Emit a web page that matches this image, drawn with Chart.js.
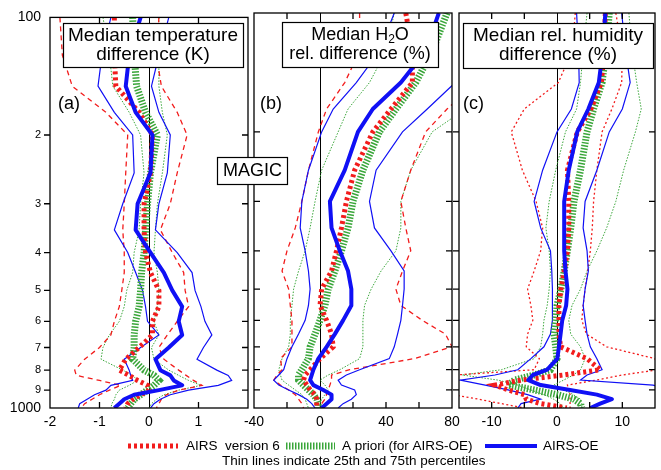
<!DOCTYPE html>
<html>
<head>
<meta charset="utf-8">
<script src="https://cdn.jsdelivr.net/npm/chart.js@4.4.1/dist/chart.umd.min.js"></script>
<style>
  body { margin: 0; background: #fff; }
  #wrap { position: relative; width: 661px; height: 470px; }
  #wrap canvas { position: absolute; left: 0; top: 0; }
</style>
</head>
<body>
<div id="wrap">
  <canvas id="chartA" width="661" height="470"></canvas>
  <canvas id="chartB" width="661" height="470"></canvas>
  <canvas id="chartC" width="661" height="470"></canvas>
</div>
<script>
// pressure levels (hPa), shared by every profile
const levels = [100,125,150,175,200,250,300,350,400,450,500,550,600,650,700,750,800,825,850,875,900,925,950,975,1000];
const yTicks = [100,200,300,400,500,600,700,800,900,1000];

// (a) temperature difference, K
const tV6   = [-0.7,-0.7,-0.67,-0.2,0.07,0.03,-0.1,-0.1,-0.07,0.03,0.2,0.2,0.07,0.07,-0.2,-0.47,-0.6,-0.4,-0.23,-0.03,0,-0.17,-0.33,-0.43,-0.47];
const tV6Lo = [-1.8,-1.75,-1.55,-0.87,-0.43,-0.47,-0.5,-0.53,-0.5,-0.5,-0.55,-0.6,-0.7,-0.77,-1.0,-1.3,-1.5,-1.47,-1.0,-0.57,-0.8,-1.0,-1.15,-1.3,-1.37];
const tV6Hi = [0.2,0.15,0.25,0.57,0.77,0.57,0.43,0.23,0.47,0.7,0.73,0.8,0.57,0.37,0.2,0.3,0.6,0.75,0.9,1.07,0.6,0.35,0.25,0.2,0.15];
const tAp   = [-0.33,-0.3,-0.25,-0.07,0.17,0.03,-0.03,-0.07,-0.1,-0.15,-0.17,-0.2,-0.27,-0.3,-0.3,-0.33,-0.1,0.1,0.2,0.1,-0.03,-0.17,-0.3,-0.37,-0.43];
const tApLo = [-0.93,-0.8,-0.73,-0.4,-0.17,-0.1,-0.17,-0.2,-0.3,-0.33,-0.45,-0.5,-0.6,-0.8,-0.93,-0.97,-0.53,-0.33,-0.23,-0.4,-0.6,-0.67,-0.7,-0.75,-0.77];
const tApHi = [0.2,0.2,0.2,0.27,0.37,0.27,0.17,0.13,0.1,0.17,0.2,0.17,0.1,0.2,0.05,0.1,0.4,0.6,0.8,1.05,0.6,0.3,0.15,0.05,0];
const tOe   = [-0.17,-0.4,-0.47,-0.27,0.07,0.03,-0.23,-0.27,0.03,0.3,0.47,0.67,0.6,0.67,0.4,0.13,0.23,0.43,0.5,0.67,0.2,-0.3,-0.5,-0.6,-0.7];
const tOeLo = [-0.77,-0.95,-1.03,-0.7,-0.33,-0.3,-0.53,-0.7,-0.43,-0.27,-0.13,-0.07,-0.03,0.2,-0.17,-0.5,-0.4,-0.37,-0.33,-0.77,-0.87,-1.1,-1.25,-1.4,-1.43];
const tOeHi = [0.4,0.2,0.05,0.2,0.43,0.37,0.2,0.13,0.57,0.87,0.93,1.05,1.13,1.27,1.1,0.97,1.37,1.6,1.67,1.4,0.8,0.43,0.23,0.1,0.03];

// (b) H2O relative difference, %
const wV6   = [52,56,56,43,32,21,16,13,10,7,1,0,4,7,8,0,-6,-9,-10,-8,-6,-3,-2,-2,-2];
const wV6Lo = [24,24,15,4,-1,-7,-11,-15,-20,-23,-19,-18,-17,-17,-17,-24,-23,-26,-28,-24,-19,-15,-13,-11,-10];
const wV6Hi = [95,95,95,77,64,55,49,52,55,50,46,49,62,76,80,57,18,7,7,6,5,4,3,1,0];
const wAp   = [77,68,58,46,36,26,20,17,13,9,5,3,0,-3,-6,-7,-11,-13,-13,-10,-7,-4,-2,-1,-1];
const wApLo = [45,40,30,17,11,1,-3,-6,-9,-13,-16,-17,-18,-18,-19,-23,-25,-24,-23,-19,-15,-11,-9,-8,-7];
const wApHi = [100,100,95,88,68,55,49,49,46,37,31,27,26,26,26,24,12,5,0,3,5,3,1,0,0];
const wOe   = [72,64,49,32,23,15,6,7,12,17,19,19,14,9,4,-1,-4,-5,-6,-4,2,7,7,4,1];
const wOeLo = [45,36,22,8,1,-7,-11,-12,-9,-7,-6,-7,-9,-13,-17,-20,-22,-25,-28,-25,-19,-13,-8,-5,-3];
const wOeHi = [90,86,82,65,50,34,30,33,43,51,51,50,49,47,45,42,24,16,11,13,21,22,19,14,11];

// (c) relative humidity difference, %
const hV6   = [7.4,7.2,6.8,5.2,3.1,1.6,1.8,1.8,1.6,1.1,0.6,0.3,0.3,0.3,0.55,4.6,6.6,1,-5.5,-9.5,-7.5,-5,-4.7,-2.5,1.5];
const hV6Lo = [2.8,2.3,0.2,-5,-7,-5.3,-3.2,-2.2,-2.5,-3.5,-4.5,-4,-3.7,-4.5,-4.7,-2.7,-3.5,-15.5,-17,-17,-17,-16,-12,-8.5,-5];
const hV6Hi = [9,10,9.9,8.4,6.9,6.1,5.6,5.4,5.1,4.7,4.3,4,3.8,4.5,7.6,15,15.5,10,6,1.6,1.8,2,2,2,2];
const hAp   = [8,7.5,6.9,5.6,4.6,3.6,2.6,2.1,1.6,1.1,0.6,0,-0.2,-0.45,-0.2,0,-1,-3.5,-6.5,-7.5,-3.5,0,2.6,3.6,3.8];
const hApLo = [4.6,4,3.6,3,1.3,-0.2,-1.2,-1.7,-1.2,-1,-1.2,-1.5,-2,-2.2,-2.5,-3.5,-8.5,-14.5,-9,-6,-4,-2,-0.5,0.5,1];
const hApHi = [11,11.5,12.2,12.9,12,10.2,9,7.6,6.1,4.6,3.6,2.3,1.8,2.1,3.6,4.3,3.6,2.5,1,-0.5,1,2.5,3.6,3.8,3.8];
const hOe   = [7.4,7,6.4,4.8,3.1,1.8,1.1,1.1,1.1,1.3,1.6,1.4,0.8,0.55,0.3,0.05,-1.5,-3.7,-4.4,-2.5,2,6.1,8.4,6.6,5.1];
const hOeLo = [3,3.3,3.4,2.2,0,-2.2,-3.5,-2.5,-1,-0.8,-0.7,-0.7,-0.7,-1,-2,-4,-6,-9.5,-14.8,-11,-7.5,-4.5,-2.5,-5.5,-6];
const hOeHi = [9.9,10.5,11.2,10,8,6.1,4.3,4,4.6,4.8,4.3,4,4.3,4.6,5.1,6.1,6.9,4.6,3.6,14.7,18,18,18,18,18];

const FONT = '"Liberation Sans", Arial, Helvetica, sans-serif';
const RED = '#f21c1c', GREEN = '#3aa63a', BLUE = '#1010f5';

const medOe = { borderColor: BLUE, borderWidth: 4, borderJoinStyle: 'round' };
const medV6 = { borderColor: RED, borderWidth: 5, borderDash: [3, 3] };
const medAp = { borderColor: GREEN, borderWidth: 7, borderDash: [1.5, 1.5] };

const panels = [
  { id: 'chartA', left: 0, right: 248, min: -2, max: 2, step: 1, labels: [-2, -1, 0, 1],
    v6: [tV6, tV6Lo, tV6Hi], ap: [tAp, tApLo, tApHi], oe: [tOe, tOeLo, tOeHi], v6Dash: [5, 4],
    title: ['Median temperature', 'difference (K)'], titleSize: 19, box: [63, 23, 243, 67], tag: '(a)', tagX: 58,
    yLabels: true, outLeft: true, legend: true },
  { id: 'chartB', left: 254, right: 452, min: -40, max: 80, step: 20, labels: [-40, 0, 40, 80],
    v6: [wV6, wV6Lo, wV6Hi], ap: [wAp, wApLo, wApHi], oe: [wOe, wOeLo, wOeHi], v6Dash: [5, 4],
    title: ['Median H|2|O', 'rel. difference (%)'], titleSize: 18, box: [282, 22, 438, 67], tag: '(b)', tagX: 260,
    magic: true },
  { id: 'chartC', left: 459, right: 657, min: -15, max: 15, step: 5, labels: [-10, 0, 10],
    v6: [hV6, hV6Lo, hV6Hi], ap: [hAp, hApLo, hApHi], oe: [hOe, hOeLo, hOeHi], v6Dash: [2, 2.5],
    title: ['Median rel. humidity', 'difference (%)'], titleSize: 19, box: [463, 23, 653, 68], tag: '(c)', tagX: 463,
    outLeft: true }
];

function line(vals, style) {
  return Object.assign({
    data: levels.map((p, i) => ({ x: vals[i], y: p })),
    showLine: true, pointRadius: 0, pointHoverRadius: 0, fill: false, tension: 0
  }, style);
}

function strokeSample(ctx, x1, x2, y, st) {
  ctx.save();
  ctx.strokeStyle = st.borderColor;
  ctx.lineWidth = st.borderWidth;
  ctx.setLineDash(st.borderDash || []);
  ctx.beginPath(); ctx.moveTo(x1, y); ctx.lineTo(x2, y); ctx.stroke();
  ctx.restore();
}

function drawTitleLine(ctx, text, cx, y, maxW, size) {
  // "a|2|b" marks a subscript
  const parts = text.split('|');
  const big = size + 'px ' + FONT, small = Math.round(size * 0.67) + 'px ' + FONT;
  ctx.textBaseline = 'middle';
  if (parts.length === 1) {
    ctx.textAlign = 'center';
    ctx.font = big;
    ctx.fillText(text, cx, y, maxW);
    return;
  }
  ctx.font = big;
  const w1 = ctx.measureText(parts[0]).width, w3 = ctx.measureText(parts[2]).width;
  ctx.font = small;
  const w2 = ctx.measureText(parts[1]).width;
  let x = cx - (w1 + w2 + w3) / 2;
  ctx.textAlign = 'left';
  ctx.font = big;
  ctx.fillText(parts[0], x, y); x += w1;
  ctx.font = small;
  ctx.fillText(parts[1], x, y + 5); x += w2;
  ctx.font = big;
  ctx.fillText(parts[2], x, y);
}

function decorFor(pn) {
  return {
    id: 'decor',
    beforeDatasetsDraw(chart) {
      const { ctx, chartArea: a, scales: { x } } = chart;
      const x0 = Math.round(x.getPixelForValue(0)) + 0.5;
      ctx.save();
      ctx.strokeStyle = '#000'; ctx.lineWidth = 1;
      ctx.beginPath(); ctx.moveTo(x0, a.top); ctx.lineTo(x0, a.bottom); ctx.stroke();
      ctx.restore();
    },
    afterDatasetsDraw(chart) {
      const { ctx, chartArea: a, scales: { x, y } } = chart;
      ctx.save();
      ctx.strokeStyle = '#000'; ctx.fillStyle = '#000'; ctx.lineWidth = 1.3;
      ctx.strokeRect(a.left, a.top, a.right - a.left, a.bottom - a.top);

      // tick marks
      const tl = 6;
      ctx.beginPath();
      yTicks.slice(1, -1).forEach(v => {
        const py = y.getPixelForValue(v);
        if (pn.outLeft) { ctx.moveTo(a.left - tl, py); ctx.lineTo(a.left, py); }
        else { ctx.moveTo(a.left, py); ctx.lineTo(a.left + tl, py); }
        ctx.moveTo(a.right - tl, py); ctx.lineTo(a.right, py);
      });
      x.ticks.forEach(t => {
        if (t.value <= pn.min || t.value >= pn.max || t.value === 0) return;
        const px = x.getPixelForValue(t.value);
        ctx.moveTo(px, a.bottom); ctx.lineTo(px, a.bottom - tl);
        ctx.moveTo(px, a.top); ctx.lineTo(px, a.top + tl);
      });
      ctx.stroke();

      // title box
      const [bx1, by1, bx2, by2] = pn.box;
      ctx.fillStyle = '#fff';
      ctx.fillRect(bx1, by1, bx2 - bx1, by2 - by1);
      ctx.lineWidth = 1.2;
      ctx.strokeRect(bx1 + 0.5, by1 + 0.5, bx2 - bx1, by2 - by1);
      ctx.fillStyle = '#000';
      const cx = (bx1 + bx2) / 2;
      drawTitleLine(ctx, pn.title[0], cx, by1 + 13, bx2 - bx1 - 8, pn.titleSize);
      drawTitleLine(ctx, pn.title[1], cx, by1 + 32, bx2 - bx1 - 12, pn.titleSize);

      // panel tag
      ctx.font = '18px ' + FONT;
      ctx.textAlign = 'left'; ctx.textBaseline = 'middle';
      ctx.fillText(pn.tag, pn.tagX, 104);

      if (pn.magic) {
        ctx.fillStyle = '#fff';
        ctx.fillRect(217, 157, 70, 27);
        ctx.strokeRect(217.5, 157.5, 70, 27);
        ctx.fillStyle = '#000';
        ctx.textAlign = 'center';
        ctx.fillText('MAGIC', 252.5, 171.5);
      }

      if (pn.legend) {
        const ly = 446;
        strokeSample(ctx, 128, 178, ly, medV6);
        strokeSample(ctx, 286, 335, ly, medAp);
        strokeSample(ctx, 485, 537, ly, medOe);
        ctx.fillStyle = '#000';
        ctx.font = '13.5px ' + FONT;
        ctx.textAlign = 'left'; ctx.textBaseline = 'middle';
        ctx.fillText('AIRS  version 6', 186, ly);
        ctx.fillText('A priori (for AIRS-OE)', 342, ly);
        ctx.fillText('AIRS-OE', 543, ly);
        ctx.fillText('Thin lines indicate 25th and 75th percentiles', 222, 461);
      }
      ctx.restore();
    }
  };
}

function makeChart(pn) {
  const thinOe = { borderColor: BLUE, borderWidth: 1.2 };
  const thinV6 = { borderColor: RED, borderWidth: 1.3, borderDash: pn.v6Dash };
  const thinAp = { borderColor: GREEN, borderWidth: 1, borderDash: [1.5, 1.5] };
  const datasets = [
    line(pn.oe[0], medOe),
    line(pn.v6[0], medV6),
    line(pn.ap[0], medAp),
    line(pn.oe[1], thinOe), line(pn.oe[2], thinOe),
    line(pn.v6[1], thinV6), line(pn.v6[2], thinV6),
    line(pn.ap[1], thinAp), line(pn.ap[2], thinAp)
  ];
  return new Chart(document.getElementById(pn.id), {
    type: 'scatter',
    data: { datasets },
    options: {
      responsive: false,
      animation: false,
      events: [],
      layout: { padding: { left: pn.left, right: 661 - pn.right, top: 13, bottom: 32 } },
      plugins: { legend: { display: false }, tooltip: { enabled: false } },
      scales: {
        x: {
          type: 'linear', min: pn.min, max: pn.max,
          grid: { display: false, drawTicks: false },
          border: { display: false },
          afterFit: s => { s.height = 30; },
          ticks: {
            stepSize: pn.step, autoSkip: false, maxRotation: 0, padding: 6,
            color: '#000', font: { family: FONT, size: 14 },
            callback: v => pn.labels.includes(v) ? String(v) : ''
          }
        },
        y: {
          type: 'logarithmic', min: 100, max: 1000, reverse: true,
          display: !!pn.yLabels,
          grid: { display: false, drawTicks: false },
          border: { display: false },
          afterFit: s => { s.width = pn.yLabels ? 50 : 0; },
          afterBuildTicks: s => { s.ticks = yTicks.map(v => ({ value: v })); },
          ticks: {
            padding: 9, color: '#000',
            font: c => ({ family: FONT, size: (c.tick && (c.tick.value === 100 || c.tick.value === 1000)) ? 14 : 11 }),
            callback: v => (v === 100 || v === 1000) ? String(v) : String(v / 100)
          }
        }
      }
    },
    plugins: [decorFor(pn)]
  });
}

panels.forEach(makeChart);
</script>
</body>
</html>
